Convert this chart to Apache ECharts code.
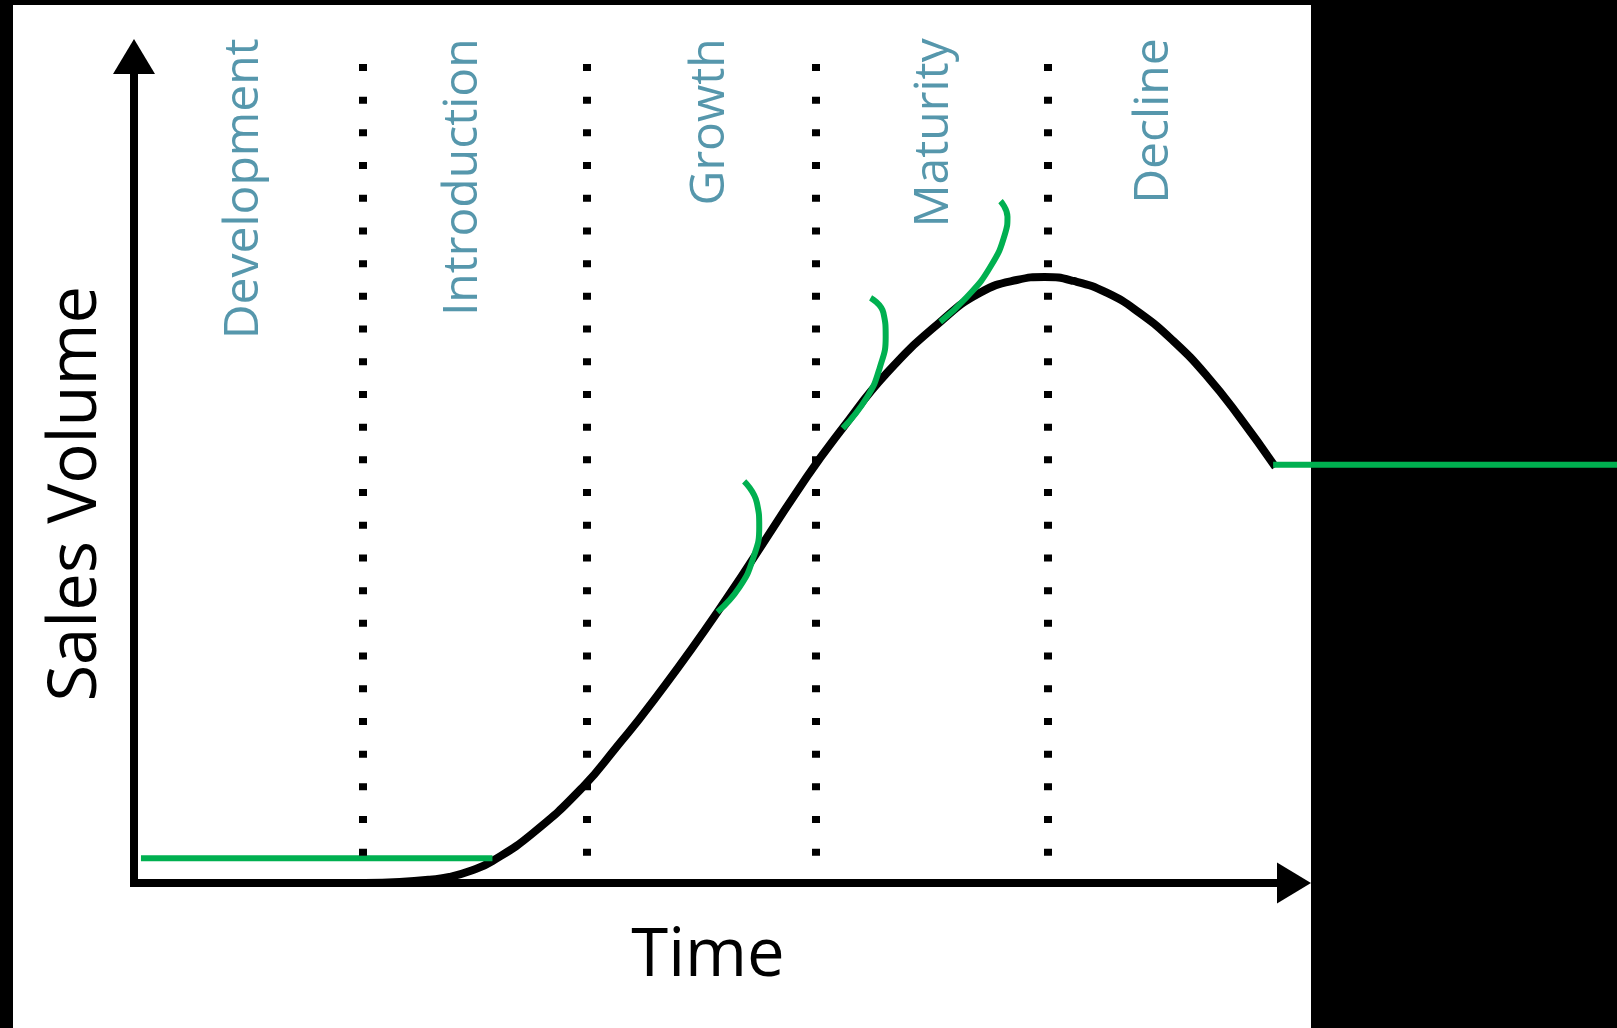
<!DOCTYPE html>
<html>
<head>
<meta charset="utf-8">
<script src="https://cdn.jsdelivr.net/npm/echarts@6/dist/echarts.min.js"></script>
<style>
html,body{margin:0;padding:0;background:#000;overflow:hidden;}
#c{width:1617px;height:1028px;}
</style>
</head>
<body>
<div id="c"></div>
<script>
// ---- data ----
const phaseNames = ['Development', 'Introduction', 'Growth', 'Maturity', 'Decline'];
const phaseLabelX = [9.5, 28.4, 49.7, 69.0, 88.0];
const phaseLabelY = 102.2;
const phaseBoundaries = [19.7, 39.0, 58.8, 78.8];
const boundaryBottom = 3.3;
const boundaryTop = 99.6;

const salesCurve = [
  [19.9, 0], [22.9, 0.12], [25.5, 0.4], [27.2, 0.73], [29.1, 1.5], [30.9, 2.66], [34.4, 6.05], [38.7, 11.62],
  [41.6, 16.46], [44.5, 21.54], [50.3, 32.79], [58.0, 49.12], [61.1, 55.05],
  [64.9, 61.71], [69.5, 67.88], [72.9, 71.39], [76.1, 72.96], [78.5, 73.32], [81.0, 72.84],
  [83.9, 71.39], [86.7, 68.96], [89.6, 65.58], [92.5, 61.34], [95.3, 56.38], [98.4, 50.33]
];
const introLevel = [[0.6, 3.0], [30.9, 3.0]];
const growthArc1 = [[50.3, 32.8], [52.2, 35.8], [53.4, 39.4], [53.9, 43.1], [53.7, 46.0], [52.6, 48.6]];
const growthArc2 = [[61.1, 55.0], [63.2, 58.8], [64.3, 62.4], [64.8, 66.1], [64.6, 69.0], [63.5, 70.8]];
const growthArc3 = [[69.5, 67.9], [71.8, 70.9], [73.8, 74.5], [75.1, 78.6], [75.3, 80.6], [74.7, 82.5]];
const declineLevel = [[98.2, 50.6], [128, 50.6]];

// ---- layout ----
const W = 1617, H = 1028;
const G = {left: 134, right: 323, top: 56.5, bottom: 145};
const X_MAX = 100;
// second (hidden) grid with the same scale that reaches the right edge of the page
const X_MAX_EXT = X_MAX * (W - G.left) / (W - G.left - G.right);

const GREEN = '#00B050';
const TEAL = '#2C7D97';
const chart = echarts.init(document.getElementById('c'), null, {renderer: 'canvas', width: W, height: H});

function greenLine(data, smooth, axisIdx) {
  return {
    type: 'line', data: data, smooth: smooth, symbol: 'none', showSymbol: false,
    xAxisIndex: axisIdx || 0, yAxisIndex: axisIdx || 0,
    lineStyle: {color: GREEN, width: 6, cap: 'butt'}, z: 4, silent: true, clip: false,
    emphasis: {disabled: true}
  };
}

const hiddenBits = {axisTick: {show: false}, axisLabel: {show: false}, splitLine: {show: false}};

const option = {
  backgroundColor: 'transparent',
  animation: false,
  graphic: [{
    type: 'rect', shape: {x: 13, y: 5, width: 1298, height: 1023},
    style: {fill: '#ffffff'}, z: -100, silent: true
  }],
  grid: [
    {left: G.left, right: G.right, top: G.top, bottom: G.bottom},
    {left: G.left, right: 0, top: G.top, bottom: G.bottom}
  ],
  xAxis: [
    Object.assign({type: 'value', min: 0, max: X_MAX, gridIndex: 0,
      name: 'Time', nameLocation: 'middle', nameGap: 40,
      nameTextStyle: {fontFamily: 'Open Sans', fontSize: 67, color: '#000', padding: [0, 12, 0, 0]},
      axisLine: {show: true, symbol: ['none', 'triangle'], symbolSize: [41, 34],
        lineStyle: {color: '#000', width: 8, cap: 'square'}}
    }, hiddenBits),
    Object.assign({type: 'value', min: 0, max: X_MAX_EXT, gridIndex: 1, axisLine: {show: false}}, hiddenBits)
  ],
  yAxis: [
    Object.assign({type: 'value', min: 0, max: 100, gridIndex: 0,
      name: 'Sales Volume', nameLocation: 'middle', nameGap: 24, nameRotate: 90,
      nameTextStyle: {fontFamily: 'Open Sans', fontSize: 67, color: '#000', padding: [0, 48, 0, 0]},
      axisLine: {show: true, onZero: false, symbol: ['none', 'triangle'], symbolSize: [42, 35],
        lineStyle: {color: '#000', width: 8, cap: 'square'}}
    }, hiddenBits),
    Object.assign({type: 'value', min: 0, max: 100, gridIndex: 1, axisLine: {show: false}}, hiddenBits)
  ],
  series: [
    {
      type: 'line', data: [], z: 1, silent: true,
      markLine: {
        silent: true, symbol: ['none', 'none'], label: {show: false}, animation: false,
        emphasis: {disabled: true},
        lineStyle: {color: '#000', width: 8, type: [7, 25.7], cap: 'butt', opacity: 1},
        data: phaseBoundaries.map(x => [{coord: [x, boundaryBottom]}, {coord: [x, boundaryTop]}])
      }
    },
    {
      type: 'line', data: salesCurve, smooth: 0.5, symbol: 'none', showSymbol: false,
      lineStyle: {color: '#000', width: 8, cap: 'butt', join: 'round'}, z: 3, silent: true,
      emphasis: {disabled: true}
    },
    greenLine(introLevel, false),
    greenLine(growthArc1, 0.5),
    greenLine(growthArc2, 0.5),
    greenLine(growthArc3, 0.5),
    greenLine(declineLevel, false, 1),
    {
      type: 'scatter', clip: false, silent: true, symbolSize: 1, z: 5,
      itemStyle: {color: 'rgba(0,0,0,0)'},
      data: phaseNames.map((n, i) => ({name: n, value: [phaseLabelX[i], phaseLabelY]})),
      label: {
        show: true, position: 'inside', rotate: 90, align: 'right', verticalAlign: 'middle',
        formatter: p => p.name,
        fontFamily: 'Open Sans', fontWeight: 'normal', fontSize: 48, color: TEAL
      },
      emphasis: {disabled: true}
    }
  ]
};
chart.setOption(option);
</script>
</body>
</html>
